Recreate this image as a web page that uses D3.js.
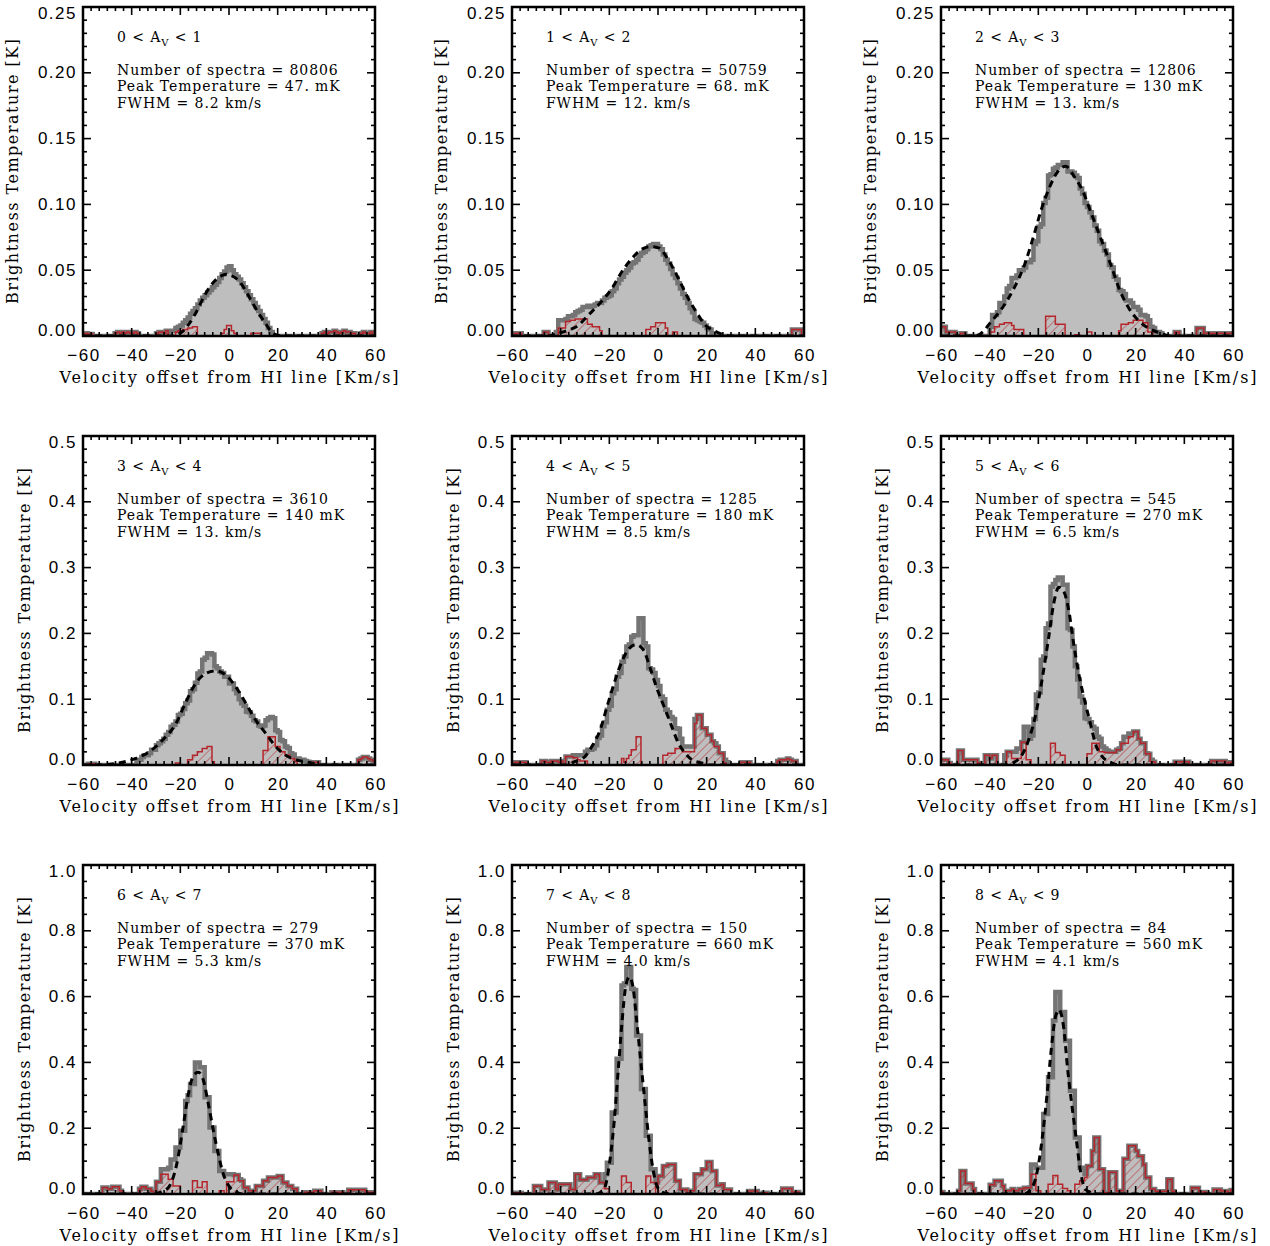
<!DOCTYPE html>
<html lang="en">
<head>
<meta charset="utf-8">
<style>
  body { margin: 0; background: #fff; }
  .tick-label { font-family: "Liberation Sans", Arial, sans-serif; font-size: 17px; letter-spacing: 1.5px; }
  .axis-title { font-family: "DejaVu Serif", serif; font-size: 16px; }
  .note { font-family: "DejaVu Serif", serif; font-size: 14px; letter-spacing: 0.9px; }
</style>
</head>
<body>
<svg width="1270" height="1246"></svg>
<script src="https://d3js.org/d3.v7.min.js"></script>
<script>
// ---- panel annotations ----
var avLow = [0, 1, 2, 3, 4, 5, 6, 7, 8];
var nSpectra = ["80806", "50759", "12806", "3610", "1285", "545", "279", "150", "84"];
var peakText = ["47. mK", "68. mK", "130 mK", "140 mK", "180 mK", "270 mK", "370 mK", "660 mK", "560 mK"];
var fwhmText = ["8.2", "12.", "13.", "13.", "8.5", "6.5", "5.3", "4.0", "4.1"];

// ---- axes ----
var rowYMax = [0.25, 0.5, 1.0];
var rowYStep = [0.05, 0.1, 0.2];
var rowYMinor = [5, 5, 4];
var rowYFormat = [".2f", ".1f", ".1f"];
var xTicks = [-60, -40, -20, 0, 20, 40, 60];

// ---- total (grey) histogram, 1 km/s bins: first bin velocity + values [K] ----
var grayStart = [-28, -42, -40, -38, -38, -34, -29, -22, -24];
var grayVals = [
  [0.002,0.002,0.003,0.003,0.004,0.004,0.006,0.007,0.008,0.010,0.012,0.014,0.017,0.019,0.021,0.024,0.027,0.029,0.031,0.033,
   0.035,0.037,0.039,0.041,0.044,0.047,0.049,0.052,0.053,0.050,0.047,0.045,0.043,0.040,0.037,0.034,0.031,0.028,0.025,0.022,
   0.019,0.016,0.013,0.010,0.006,0.003],
  [0.003,0.012,0.012,0.012,0.013,0.015,0.015,0.016,0.018,0.019,0.020,0.022,0.022,0.023,0.022,0.023,0.024,0.025,0.025,0.027,
   0.029,0.030,0.031,0.034,0.036,0.040,0.043,0.045,0.048,0.050,0.052,0.055,0.056,0.058,0.061,0.063,0.064,0.066,0.068,0.069,
   0.070,0.070,0.068,0.066,0.062,0.058,0.055,0.051,0.047,0.044,0.040,0.036,0.032,0.029,0.025,0.021,0.018,0.013,0.012,0.011,
   0.010,0.008,0.006,0.005,0.002],
  [0.007,0.016,0.016,0.018,0.025,0.025,0.030,0.036,0.038,0.044,0.044,0.046,0.050,0.050,0.052,0.056,0.056,0.058,0.070,0.072,
   0.083,0.085,0.101,0.105,0.122,0.123,0.127,0.128,0.130,0.130,0.132,0.132,0.125,0.125,0.124,0.122,0.120,0.112,0.108,0.101,
   0.098,0.094,0.090,0.084,0.080,0.072,0.070,0.065,0.062,0.054,0.052,0.045,0.043,0.035,0.034,0.032,0.027,0.027,0.025,0.022,
   0.022,0.020,0.016,0.016,0.015,0.012,0.007,0.006,0.003,0.003,0.002],
  [0.008,0.008,0.012,0.015,0.015,0.018,0.023,0.023,0.030,0.033,0.036,0.040,0.046,0.050,0.058,0.061,0.066,0.076,0.078,0.085,
   0.094,0.098,0.112,0.115,0.125,0.139,0.142,0.160,0.163,0.170,0.170,0.168,0.150,0.147,0.142,0.140,0.134,0.134,0.124,0.124,
   0.115,0.109,0.100,0.094,0.090,0.081,0.080,0.075,0.068,0.066,0.060,0.058,0.060,0.068,0.071,0.073,0.071,0.053,0.050,0.038,
   0.036,0.028,0.026,0.018,0.016,0.010,0.010,0.008,0.008,0.006,0.005],
  [0.013,0.013,0.013,0.015,0.015,0.015,0.015,0.015,0.020,0.023,0.023,0.025,0.030,0.041,0.045,0.059,0.065,0.084,0.090,0.109,
   0.115,0.134,0.140,0.157,0.165,0.180,0.183,0.195,0.197,0.197,0.223,0.223,0.185,0.180,0.147,0.145,0.140,0.129,0.120,0.104,
   0.100,0.084,0.080,0.073,0.070,0.056,0.055,0.040,0.028,0.028,0.028,0.028,0.028,0.070,0.076,0.076,0.056,0.056,0.043,0.043,
   0.033,0.033,0.025,0.018,0.018,0.008,0.004],
  [0.015,0.020,0.020,0.020,0.020,0.025,0.025,0.035,0.058,0.058,0.040,0.045,0.070,0.107,0.110,0.160,0.165,0.208,0.215,0.271,
   0.275,0.281,0.285,0.285,0.274,0.274,0.208,0.205,0.180,0.150,0.130,0.104,0.095,0.071,0.070,0.065,0.058,0.055,0.043,0.040,
   0.028,0.025,0.022,0.020,0.020,0.020,0.022,0.025,0.030,0.043,0.043,0.048,0.048,0.048,0.040,0.035,0.020,0.020,0.018,0.015,
   0.008,0.004],
  [0.020,0.075,0.075,0.075,0.080,0.105,0.105,0.141,0.141,0.192,0.192,0.283,0.300,0.334,0.334,0.400,0.400,0.385,0.385,0.294,
   0.294,0.202,0.202,0.131,0.131,0.070,0.070,0.060,0.060,0.060,0.060,0.045,0.045,0.045,0.020,0.020,0.015,0.010,0.010,0.010,
   0.015,0.020,0.024,0.040,0.040,0.050,0.050,0.050,0.050,0.050,0.050,0.035,0.035,0.020,0.020,0.013,0.013],
  [0.060,0.095,0.095,0.248,0.248,0.411,0.411,0.634,0.640,0.690,0.690,0.624,0.620,0.482,0.482,0.319,0.319,0.177,0.177,0.075,
   0.075,0.035,0.035],
  [0.020,0.090,0.090,0.080,0.080,0.080,0.243,0.243,0.355,0.355,0.527,0.614,0.614,0.553,0.553,0.466,0.466,0.314,0.314,0.172,
   0.172,0.080,0.080,0.060]
];

// ---- red (hatched) histogram: [first bin velocity, values] pieces ----
var redSegs = [
  [[-60,[0.0015,0.002,0.0015,0.0015]],[-47,[0.002,0.003,0.002,0.003,0.002,0.003,0.002,0.002,0.003,0.002]],
   [-30,[0.002,0.003,0.003,0.002,0.004]],[-22,[0.003,0.004,0.004,0.005,0.005,0.006,0.006,0.007,0.007]],
   [-3,[0.002,0.005,0.008,0.008,0.004,0.002]],[9,[0.002,0.002,0.002,0.002]],
   [38,[0.002,0.003,0.002,0.003,0.003,0.004,0.003,0.002,0.003,0.004,0.003,0.003,0.002,0.002]],[54,[0.002,0.003,0.002,0.002,0.003]]],
  [[-59,[0.002,0.002,0.002]],[-47,[0.003,0.003]],
   [-41,[0.006,0.006,0.006,0.011,0.011,0.012,0.012,0.013,0.013,0.013,0.013,0.013,0.009,0.009,0.007,0.007,0.007,0.004]],
   [-5,[0.005,0.005,0.007,0.007,0.010,0.010,0.010,0.010,0.006]],[6,[0.003,0.003]],[55,[0.005,0.005,0.005,0.005]]],
  [[-60,[0.007,0.007,0.003,0.003,0.003,0.003]],[-52,[0.002,0.002]],
   [-40,[0.003,0.003,0.007,0.007,0.009,0.009,0.010,0.010,0.010,0.008,0.005,0.005,0.005,0.005]],
   [-17,[0.015,0.015,0.015,0.015,0.009,0.009,0.009,0.009]],[-5,[0.001,0.001]],[0,[0.003,0.003]],
   [13,[0.004,0.009,0.009,0.009,0.010,0.010,0.012,0.012,0.012,0.012,0.010,0.010,0.003,0.003]],[36,[0.003,0.003]],
   [45,[0.006,0.006,0.006]],[48,[0.002,0.002,0.002,0.002,0.002,0.002,0.002,0.002,0.002,0.002,0.002,0.002]]],
  [[-58,[0.002,0.002,0.002]],[-22,[0.003,0.003]],[-17,[0.008,0.008,0.015,0.015,0.020,0.020,0.025,0.025,0.028,0.028,0.005]],
   [14,[0.022,0.022,0.043,0.043,0.043,0.028,0.028,0.020,0.020,0.015,0.015,0.010,0.010,0.005]],[34,[0.004,0.004,0.004]],
   [53,[0.008,0.010,0.012,0.012,0.010,0.008,0.006]]],
  [[-59,[0.004,0.004,0.004,0.004,0.004]],[-48,[0.006,0.006,0.004,0.004,0.006,0.006,0.006,0.004,0.006]],
   [-38,[0.013,0.013,0.013,0.011,0.011,0.008,0.006,0.006,0.006]],[-15,[0.010,0.004,0.010,0.015,0.023,0.023,0.043,0.043]],
   [2,[0.015,0.015,0.018,0.018,0.018,0.025,0.025,0.025,0.020,0.020,0.020,0.020,0.020,0.063,0.076,0.076,0.056,0.056,0.046,0.046,
       0.036,0.028,0.028,0.018,0.018,0.003]],[34,[0.004,0.004,0.004,0.004]],[49,[0.006,0.008,0.008,0.008,0.010,0.008,0.006,0.006]]],
  [[-60,[0.008,0.008,0.008,0.003]],[-53,[0.022,0.022,0.008,0.008,0.008,0.008,0.008,0.008,0.003]],[-42,[0.015,0.015,0.010,0.015,0.015]],
   [-33,[0.020,0.020,0.010,0.010,0.010,0.010,0.035,0.035,0.008,0.008]],[-15,[0.033,0.033,0.019,0.019,0.015,0.015]],
   [0,[0.017,0.017,0.033,0.033,0.033,0.020,0.020,0.019,0.019,0.019,0.019,0.019,0.023,0.023,0.033,0.033,0.033,0.043,0.043,0.051,
       0.051,0.040,0.033,0.033,0.017,0.017,0.005,0.005]],[36,[0.005,0.005,0.005,0.005,0.005,0.005]],
   [51,[0.006,0.006,0.006,0.006,0.006,0.006]],[58,[0.004,0.004]]],
  [[-52,[0.020,0.020,0.016,0.016,0.022,0.022,0.022,0.010]],[-37,[0.016,0.022,0.022,0.016,0.016,0.008]],
   [-30,[0.037,0.037,0.060,0.060,0.060,0.045,0.045,0.024,0.024,0.024]],[-15,[0.040,0.040,0.020,0.020,0.037,0.037]],
   [-4,[0.010,0.010,0,0.037,0.037,0.037,0.058,0.058,0.040,0.040,0.020,0.020,0.010,0.010,0.010,0.024,0.024,0.024,0.040,0.040,
        0.050,0.050,0.050,0.050,0.055,0.055,0.035,0.035,0.024,0.024,0.016,0.016]],
   [31,[0.005,0.005,0.005,0.005,0.010,0.010,0.010]],[42,[0.005,0.005,0.005,0.005,0.005]],
   [49,[0.013,0.013,0.013,0.013,0.013,0.013,0.013]],[57,[0.005,0.005,0.005]]],
  [[-59,[0.004,0.004,0.004]],
   [-51,[0.024,0.024,0.024,0.014,0.014,0.014,0.035,0.035,0.035,0.014,0.030,0.030,0.030,0.030,0.030,0.014,0.014,0.060,0.060,0.043,
         0.043,0.043,0.050,0.050,0.050,0.060,0.060,0.035,0.035,0.016,0.016]],[-15,[0.055,0.055,0.035,0.035]],
   [-5,[0.055,0.055,0.035,0.035,0,0.055,0.055,0.085,0.085,0.090,0.090,0.090,0.040,0.040,0.014,0.014,0.014,0,0.010,0.010,
        0.060,0.060,0.060,0.075,0.075,0.097,0.097,0.070,0.070,0.026,0.026,0.030,0.014,0.014,0.014]],
   [37,[0.009,0.009,0.009,0.009]],[43,[0.004,0.004]],[51,[0.017,0.017,0.017,0.017,0.006,0.006,0.006]]],
  [[-60,[0.006]],[-53,[0.010,0.070,0.070,0.032,0.032,0.032,0.015]],
   [-40,[0.028,0.028,0.040,0.040,0.040,0.025,0.010,0.010,0.010,0.015,0.010,0.010,0.015,0.015,0.019,0.019,0.019,0.060,0.060,0.010,0.010]],
   [-16,[0.030,0.030,0.056,0.056,0.030,0.030,0.017,0.017,0.010]],
   [-5,[0.030,0.030,0.040,0.040,0.050,0.085,0.085,0.131,0.172,0.172,0.075,0.075,0.004,0.004,0.066,0.066,0.066,0.010,0.010,0.010,
        0.107,0.107,0.147,0.147,0.147,0.131,0.115,0.115,0.090,0.050,0.050,0.015,0.015,0.008,0.008,0.008,0.008,0.008,0.045,0.045,0.008]],
   [43,[0.019,0.019,0.019,0.006,0.006,0.006]],[52,[0.014,0.014,0.014,0.009,0.009,0.009]],[59,[0.012]]]
];

// ---- dashed fit curve: [velocity, K] ----
var fitPts = [
  [[-60,0],[-24,0],[-19.3,0.003],[-16.5,0.009],[-13.8,0.017],[-9.7,0.032],[-6.3,0.041],[-2.8,0.046],[-1,0.047],[0.8,0.046],
   [4.5,0.041],[7.9,0.031],[11.3,0.020],[14.8,0.010],[18.2,0.002],[22,0],[60,0]],
  [[-60,0],[-45,0],[-41,0.002],[-36,0.005],[-32.8,0.008],[-28.6,0.016],[-23.8,0.025],[-19,0.036],[-14.8,0.049],[-10.7,0.059],
   [-6.6,0.066],[-3.2,0.068],[0.3,0.067],[4.5,0.057],[8.6,0.043],[12,0.030],[15.5,0.019],[19.6,0.008],[23,0.004],[27,0.001],[30,0],[60,0]],
  [[-60,0],[-46,0],[-42.9,0.003],[-39.8,0.010],[-35.3,0.020],[-29.8,0.037],[-25.7,0.054],[-21.6,0.078],[-18.8,0.096],[-15.4,0.113],
   [-12,0.125],[-8.8,0.129],[-5.2,0.121],[-1.7,0.110],[1.8,0.093],[5.9,0.073],[10,0.053],[13.4,0.035],[16.9,0.022],[21,0.012],
   [25.2,0.006],[30.6,0.002],[34,0],[60,0]],
  [[-60,0],[-52,0],[-47,0.002],[-38.3,0.010],[-32.8,0.020],[-27.3,0.038],[-21.8,0.063],[-17.7,0.096],[-13.7,0.124],[-9.6,0.139],
   [-5.5,0.143],[-1.4,0.137],[2.7,0.119],[6.9,0.094],[11,0.068],[15.1,0.048],[19.2,0.028],[23.3,0.015],[27.4,0.008],[32.9,0.004],
   [38,0],[60,0]],
  [[-60,0],[-38,0],[-34.3,0.005],[-30,0.013],[-27.2,0.028],[-23.8,0.053],[-21,0.088],[-17.6,0.129],[-14.9,0.157],[-12.1,0.176],
   [-9,0.183],[-6,0.175],[-3.2,0.147],[-0.5,0.117],[3,0.084],[5.7,0.058],[8.4,0.033],[11.2,0.018],[13.9,0.008],[18,0.003],[21,0],[60,0]],
  [[-60,0],[-33,0],[-30,0.004],[-26.8,0.015],[-24,0.038],[-21.3,0.073],[-18.5,0.129],[-15.7,0.195],[-13.7,0.245],[-11.6,0.270],
   [-9.6,0.264],[-7.5,0.235],[-5.5,0.185],[-3.4,0.139],[-0.7,0.094],[1.4,0.063],[3.4,0.033],[6.2,0.013],[10.3,0.003],[13,0],[60,0]],
  [[-60,0],[-32,0],[-28.3,0.005],[-24.9,0.020],[-21.5,0.090],[-18.7,0.212],[-16.7,0.304],[-14.6,0.360],[-12.6,0.370],[-10.5,0.345],
   [-8.5,0.274],[-6.4,0.192],[-4.4,0.121],[-2.3,0.060],[0.4,0.020],[3.2,0.005],[6,0],[60,0]],
  [[-60,0],[-26,0],[-23.5,0.005],[-21.6,0.025],[-20.3,0.075],[-18.3,0.197],[-16.2,0.390],[-14.8,0.522],[-13.2,0.634],[-11.8,0.660],
   [-10.4,0.634],[-8.7,0.522],[-6.9,0.390],[-5.2,0.268],[-3.6,0.157],[-1.8,0.065],[0.3,0.014],[3,0.002],[6,0],[60,0]],
  [[-60,0],[-26,0],[-22.5,0.020],[-19.8,0.095],[-18.2,0.182],[-16.4,0.304],[-14.6,0.446],[-13,0.537],[-11.5,0.560],[-9.6,0.507],
   [-7.9,0.375],[-6.1,0.263],[-4.5,0.172],[-2.7,0.070],[-0.7,0.014],[2.1,0.004],[5,0],[60,0]]
];

// ---- layout ----
var svg = d3.select("svg");
var colLeft = [83, 512, 941], rowTop = [7, 436, 865];
var pw = 292, ph = 329;
var redCol = "#b5262c";

var defs = svg.append("defs");
defs.append("pattern")
    .attr("id", "hatch")
    .attr("patternUnits", "userSpaceOnUse")
    .attr("width", 6).attr("height", 6)
    .attr("patternTransform", "rotate(45)")
  .append("line")
    .attr("x1", 0).attr("y1", -1).attr("x2", 0).attr("y2", 7)
    .attr("stroke", redCol).attr("stroke-width", 1);

// bins -60..59 filled from the arrays
function binsFromGray(p) {
    var out = d3.range(120).map(function() { return 0; });
    grayVals[p].forEach(function(t, i) { out[grayStart[p] + i + 60] = t; });
    return out;
}
function binsFromSegs(p) {
    var out = d3.range(120).map(function() { return 0; });
    redSegs[p].forEach(function(s) {
        s[1].forEach(function(t, i) { out[s[0] + i + 60] = t; });
    });
    return out;
}
function stepPoints(vals) {
    var pts = vals.map(function(t, i) { return [i - 60, t]; });
    pts.push([60, vals[vals.length - 1]]);
    return pts;
}

d3.range(9).forEach(function(p) {
    var row = Math.floor(p / 3), col = p % 3;
    var x0 = colLeft[col], y0 = rowTop[row];
    var ymax = rowYMax[row];

    var x = d3.scaleLinear().domain([-60, 60]).range([x0, x0 + pw]);
    var y = d3.scaleLinear().domain([0, ymax]).range([y0 + ph, y0]);

    defs.append("clipPath").attr("id", "clip" + p)
      .append("rect").attr("x", x0).attr("y", y0).attr("width", pw).attr("height", ph);

    var red = binsFromSegs(p);
    var gray = binsFromGray(p).map(function(t, i) { return Math.max(t, red[i]); });

    var area = d3.area().curve(d3.curveStepAfter)
        .x(function(d) { return x(d[0]); })
        .y0(y(0))
        .y1(function(d) { return y(d[1]); });
    var line = d3.line().curve(d3.curveStepAfter)
        .x(function(d) { return x(d[0]); })
        .y(function(d) { return y(d[1]); });

    var g = svg.append("g").attr("clip-path", "url(#clip" + p + ")");

    g.append("path").datum(stepPoints(gray))
        .attr("d", area).attr("fill", "#bebebe");
    g.append("path").datum(stepPoints(gray))
        .attr("d", line).attr("fill", "none")
        .attr("stroke", "#747474").attr("stroke-width", 4.5);

    g.append("path").datum(stepPoints(red))
        .attr("d", area).attr("fill", "url(#hatch)");
    g.append("path").datum(stepPoints(red))
        .attr("d", line).attr("fill", "none")
        .attr("stroke", redCol).attr("stroke-width", 1.5);

    g.append("path").datum(fitPts[p])
        .attr("d", d3.line().curve(d3.curveMonotoneX)
            .x(function(d) { return x(d[0]); })
            .y(function(d) { return y(d[1]); }))
        .attr("fill", "none").attr("stroke", "#000")
        .attr("stroke-width", 3).attr("stroke-dasharray", "7,5");

    // ticks on all four sides, pointing inwards
    var tk = svg.append("g").attr("stroke", "#000").attr("stroke-width", 1.6);
    var xMinor = d3.range(37).map(function(i) { return -60 + i * 20 / 6; });
    xMinor.forEach(function(v) {
        var len = (Math.round(v) % 20 === 0 && Math.abs(v - Math.round(v)) < 1e-6) ? 8 : 4;
        tk.append("line").attr("x1", x(v)).attr("x2", x(v)).attr("y1", y0 + ph).attr("y2", y0 + ph - len);
        tk.append("line").attr("x1", x(v)).attr("x2", x(v)).attr("y1", y0).attr("y2", y0 + len);
    });
    var nMinor = Math.round(ymax / rowYStep[row]) * rowYMinor[row];
    d3.range(nMinor + 1).forEach(function(i) {
        var t = i * ymax / nMinor;
        var len = (i % rowYMinor[row] === 0) ? 8 : 4;
        tk.append("line").attr("x1", x0).attr("x2", x0 + len).attr("y1", y(t)).attr("y2", y(t));
        tk.append("line").attr("x1", x0 + pw).attr("x2", x0 + pw - len).attr("y1", y(t)).attr("y2", y(t));
    });

    svg.append("rect")
        .attr("x", x0).attr("y", y0).attr("width", pw).attr("height", ph)
        .attr("fill", "none").attr("stroke", "#000").attr("stroke-width", 2.5);

    // tick labels
    var yTicks = d3.range(0, ymax + 1e-9, rowYStep[row]);
    var fmt = d3.format(rowYFormat[row]);
    yTicks.forEach(function(t, i) {
        var nudge = i === 0 ? -6 : (i === yTicks.length - 1 ? 6 : 0);
        svg.append("text").attr("class", "tick-label")
            .attr("x", x0 - 6).attr("y", y(t) + nudge)
            .attr("text-anchor", "end").attr("dominant-baseline", "central")
            .text(fmt(t));
    });
    xTicks.forEach(function(v) {
        svg.append("text").attr("class", "tick-label")
            .attr("x", x(v) + 1).attr("y", y0 + ph + 19)
            .attr("text-anchor", "middle").attr("dominant-baseline", "central")
            .text(d3.format("d")(v));
    });

    // axis titles
    svg.append("text").attr("class", "axis-title")
        .attr("x", x0 + pw / 2).attr("y", y0 + ph + 47)
        .attr("text-anchor", "middle")
        .attr("textLength", 339).attr("lengthAdjust", "spacing")
        .text("Velocity offset from HI line [Km/s]");
    var ytx = x0 - (row === 0 ? 65 : 53);
    svg.append("text").attr("class", "axis-title")
        .attr("transform", "translate(" + ytx + "," + (y0 + ph / 2) + ") rotate(-90)")
        .attr("text-anchor", "middle")
        .attr("textLength", 265).attr("lengthAdjust", "spacing")
        .text("Brightness Temperature [K]");

    // annotation block
    var tx = x0 + 34;
    var lab = svg.append("text").attr("class", "note").attr("x", tx).attr("y", y0 + 35);
    lab.append("tspan").text(avLow[p] + " < A");
    lab.append("tspan").attr("font-size", "10px").attr("dy", 4).text("V");
    lab.append("tspan").attr("dy", -4).text(" < " + (avLow[p] + 1));

    svg.append("text").attr("class", "note").attr("x", tx).attr("y", y0 + 68)
        .text("Number of spectra = " + nSpectra[p]);
    svg.append("text").attr("class", "note").attr("x", tx).attr("y", y0 + 84)
        .text("Peak Temperature = " + peakText[p]);
    svg.append("text").attr("class", "note").attr("x", tx).attr("y", y0 + 101)
        .text("FWHM = " + fwhmText[p] + " km/s");
});
</script>
</body>
</html>
